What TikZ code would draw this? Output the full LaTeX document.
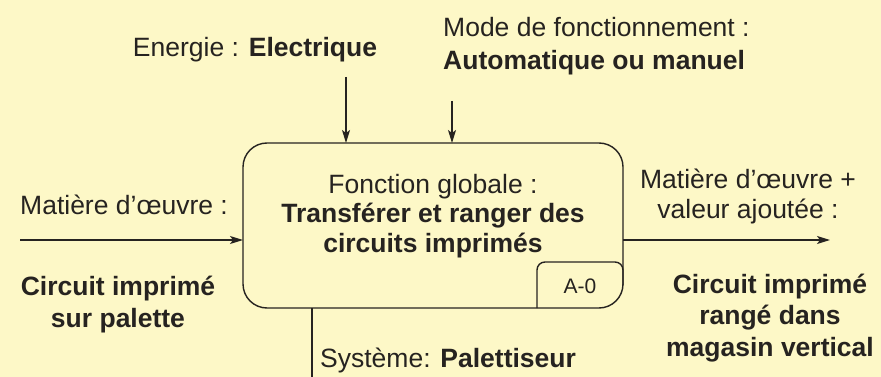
\documentclass[tikz,border=0pt]{standalone}
\usepackage{fontspec}
\setmainfont{Liberation Sans}
\usetikzlibrary{arrows.meta,positioning,calc}
\definecolor{ink}{HTML}{262320}
\definecolor{paper}{HTML}{FDF8C7}
\tikzset{lbl/.style={text=ink,align=center,inner sep=0pt,anchor=base,
  font=\fontsize{26.5}{32}\selectfont},
  wire/.style={line width=1.4pt,draw=ink},
  flow/.style={wire,-{Stealth[length=13pt,width=8pt,inset=3pt]}}}

\begin{document}
\begin{tikzpicture}[x=1pt,y=-1pt]
\fill[paper] (0,0) rectangle (881,377);
\useasboundingbox (0,0) rectangle (881,377);
\node[wire,rounded corners=24pt,outer sep=0pt,minimum width=380pt,minimum height=165pt] (fct) at (433,225.5) {};
\node[lbl,font=\fontsize{26.5}{29.5}\selectfont] (fcttxt) at (433,252) {Fonction globale :\\\textbf{Transférer et ranger des}\\\textbf{circuits imprimés}};
\node[lbl,font=\fontsize{21}{25}\selectfont] (a0) at (580,293) {A-0};
\draw[wire,rounded corners=8pt] ($(fct.south east)+(0,-23)$) |- ($(fct.south east)+(-86,-46)$) -- ($(fct.south east)+(-86,0)$);
% entrees et sorties
\coordinate (ein) at (346,77);
\coordinate (min) at (452,101);
\coordinate (pin) at (20,240);
\coordinate (pout) at (830,240);
\coordinate (mec) at (312,377);
\draw[flow] (ein) -- (ein |- fct.north);
\draw[flow] (min) -- (min |- fct.north);
\draw[flow] (pin) -- (pin -| fct.west);
\draw[flow] (pout -| fct.east) -- (pout);
\draw[wire] (mec |- fct.south) -- (mec);
% textes
\node[lbl] (energie) at (255,57) {Energie : \textbf{Electrique}};
\node[lbl,anchor=base west,align=left,font=\fontsize{26.5}{33}\selectfont] (mode) at (443,70) {Mode de fonctionnement :\\\textbf{Automatique ou manuel}};
\node[lbl,anchor=base west] (entree) at (20,214) {Matière d’œuvre :};
\node[lbl] (cpal) at (118,327) {\textbf{Circuit imprimé}\\\textbf{sur palette}};
\node[lbl,font=\fontsize{26.5}{30}\selectfont] (sortie) at (748,218) {Matière d’œuvre +\\valeur ajoutée :};
\node[lbl,font=\fontsize{26.5}{31.5}\selectfont] (cmag) at (770,356) {\textbf{Circuit imprimé}\\\textbf{rangé dans}\\\textbf{magasin vertical}};
\node[lbl,anchor=base west] (sys) at (320,367) {Système: \textbf{Palettiseur}};
\end{tikzpicture}
\end{document}
